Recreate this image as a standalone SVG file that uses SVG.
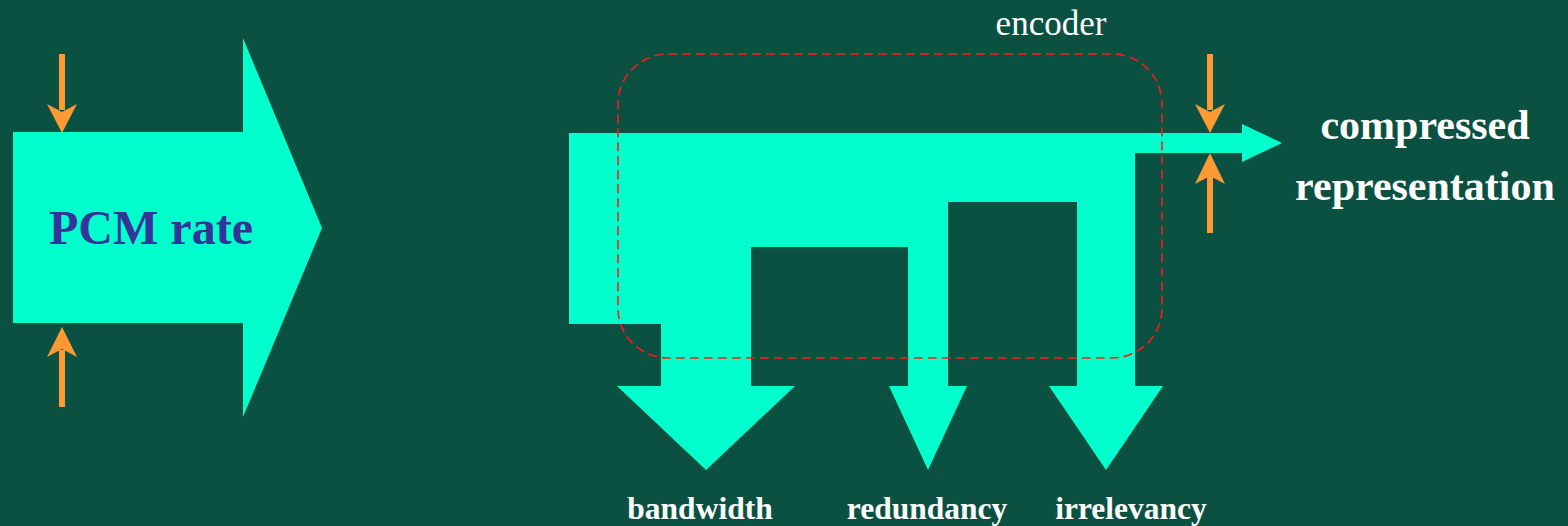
<svg xmlns="http://www.w3.org/2000/svg" width="1568" height="526" viewBox="0 0 1568 526">
  <style>
    .flow { fill: #00ffcc; }
    .squeeze { stroke: #ff9933; stroke-width: 6; fill: none; }
    .head { fill: #ff9933; }
    .lbl { font-family: "Liberation Serif", "Times New Roman", serif; font-weight: bold; fill: #ffffff; text-anchor: middle; }
  </style>
  <rect width="1568" height="526" fill="#0b5142"/>

  <!-- incoming PCM stream -->
  <g id="pcm">
    <path class="flow" d="M13,132 H243 V38 L322,228 L243,417 V323 H13 Z"/>
    <text x="151" y="244" font-family="Liberation Serif, Times New Roman, serif" font-weight="bold" font-size="48" fill="#333399" text-anchor="middle">PCM rate</text>
  </g>

  <!-- width markers on the PCM stream -->
  <g id="pcm-width">
    <line class="squeeze" x1="62" y1="54" x2="62" y2="110"/>
    <path class="head" d="M47,104 L62,133 L77,104 L62,112 Z"/>
    <line class="squeeze" x1="62" y1="350" x2="62" y2="407"/>
    <path class="head" d="M47,357 L62,327 L77,357 L62,349 Z"/>
  </g>

  <!-- stream splitting into removed parts and the output -->
  <g id="flows">
    <path class="flow" d="M569,133 H1242 V124 L1282,143 L1242,162 V153 H1135 V386 H1163 L1106,470 L1049,386 H1077 V202 H948 V386 H967 L928,470 L889,386 H908 V247 H751 V386 H795 L706,470 L617,386 H661 V324 H569 Z"/>
  </g>

  <!-- encoder boundary, drawn over the streams -->
  <g id="encoder">
    <rect x="618" y="54" width="544" height="304" rx="50" ry="50" fill="none" stroke="#ff1a1a" stroke-width="1.6" stroke-dasharray="9 5"/>
    <text x="1051" y="35" font-family="Liberation Serif, Times New Roman, serif" font-size="35" fill="#ffffff" text-anchor="middle">encoder</text>
  </g>

  <!-- width markers on the output stream -->
  <g id="out-width">
    <line class="squeeze" x1="1210" y1="54" x2="1210" y2="110"/>
    <path class="head" d="M1195,104 L1210,133 L1225,104 L1210,112 Z"/>
    <line class="squeeze" x1="1210" y1="176" x2="1210" y2="233"/>
    <path class="head" d="M1195,184 L1210,153 L1225,184 L1210,176 Z"/>
  </g>

  <g id="out-label">
    <text class="lbl" x="1425" y="139" font-size="42">compressed</text>
    <text class="lbl" x="1425" y="200" font-size="42">representation</text>
  </g>

  <g id="branch-labels">
    <text class="lbl" x="700" y="519" font-size="31.5">bandwidth</text>
    <text class="lbl" x="927" y="519" font-size="31.5">redundancy</text>
    <text class="lbl" x="1131" y="519" font-size="31.5">irrelevancy</text>
  </g>
</svg>
